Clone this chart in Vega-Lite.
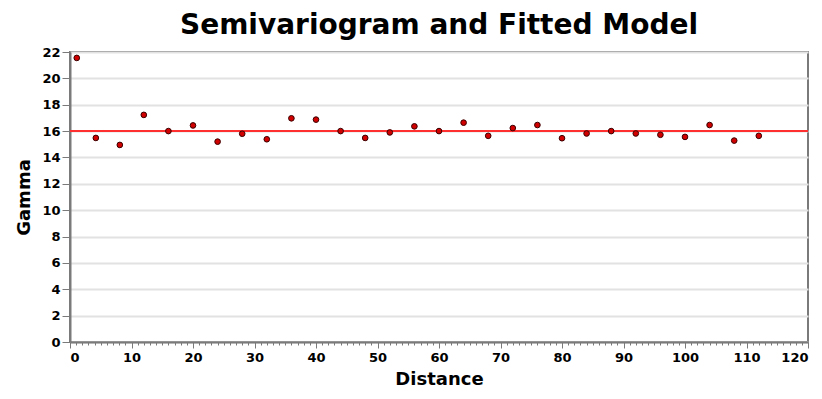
{
  "$schema": "https://vega.github.io/schema/vega-lite/v6.json",
  "width": 738,
  "height": 290,
  "autosize": {"type": "none"},
  "padding": {"left": 70, "top": 52, "right": 14, "bottom": 57},
  "background": "white",
  "title": {
    "text": "Semivariogram and Fitted Model",
    "font": "DejaVu Sans",
    "fontSize": 28,
    "fontWeight": "bold",
    "color": "black",
    "anchor": "middle",
    "frame": "group",
    "baseline": "alphabetic",
    "offset": -16
  },
  "config": {
    "view": {"stroke": "#7a7a7a", "strokeWidth": 2},
    "axis": {
      "labelFont": "DejaVu Sans",
      "labelFontWeight": "bold",
      "labelFontSize": 13,
      "labelColor": "black",
      "titleFont": "DejaVu Sans",
      "titleFontWeight": "bold",
      "titleFontSize": 18,
      "titleColor": "black",
      "domainColor": "#7a7a7a",
      "domainWidth": 2,
      "tickColor": "#7a7a7a"
    }
  },
  "data": {
    "values": [
      {"distance": 1.1, "gamma": 21.55},
      {"distance": 4.2, "gamma": 15.48},
      {"distance": 8.1, "gamma": 14.95},
      {"distance": 12, "gamma": 17.23},
      {"distance": 16, "gamma": 16.0},
      {"distance": 20, "gamma": 16.43},
      {"distance": 24, "gamma": 15.2},
      {"distance": 28, "gamma": 15.8},
      {"distance": 32, "gamma": 15.38},
      {"distance": 36, "gamma": 16.97},
      {"distance": 40, "gamma": 16.87},
      {"distance": 44, "gamma": 16.0},
      {"distance": 48, "gamma": 15.48},
      {"distance": 52, "gamma": 15.9},
      {"distance": 56, "gamma": 16.36},
      {"distance": 60, "gamma": 16.0},
      {"distance": 64, "gamma": 16.64},
      {"distance": 68, "gamma": 15.64},
      {"distance": 72, "gamma": 16.23},
      {"distance": 76, "gamma": 16.46},
      {"distance": 80, "gamma": 15.46},
      {"distance": 84, "gamma": 15.82},
      {"distance": 88, "gamma": 16.0},
      {"distance": 92, "gamma": 15.82},
      {"distance": 96, "gamma": 15.72},
      {"distance": 100, "gamma": 15.56},
      {"distance": 104, "gamma": 16.46},
      {"distance": 108, "gamma": 15.28},
      {"distance": 112, "gamma": 15.64}
    ]
  },
  "encoding": {
    "y": {
      "field": "gamma",
      "type": "quantitative",
      "scale": {"domain": [0, 22], "nice": false},
      "axis": {
        "title": "Gamma",
        "values": [0, 2, 4, 6, 8, 10, 12, 14, 16, 18, 20, 22],
        "tickSize": 8,
        "labelPadding": 2,
        "labelOverlap": false,
        "labelFlush": false,
        "grid": true,
        "gridColor": "#e2e2e2",
        "gridWidth": 2,
        "titlePadding": 8
      }
    }
  },
  "layer": [
    {
      "mark": {"type": "rule", "color": "#ff3030", "strokeWidth": 2},
      "encoding": {
        "y": {"datum": 16, "type": "quantitative"}
      }
    },
    {
      "mark": {"type": "point", "shape": "circle", "filled": true, "size": 32, "color": "#d00000", "stroke": "#3a0000", "strokeWidth": 1, "opacity": 1},
      "encoding": {
        "x": {
          "field": "distance",
          "type": "quantitative",
          "scale": {"domain": [0, 120], "nice": false},
          "axis": {
            "title": "Distance",
            "values": [0,1,2,3,4,5,6,7,8,9,10,11,12,13,14,15,16,17,18,19,20,21,22,23,24,25,26,27,28,29,30,31,32,33,34,35,36,37,38,39,40,41,42,43,44,45,46,47,48,49,50,51,52,53,54,55,56,57,58,59,60,61,62,63,64,65,66,67,68,69,70,71,72,73,74,75,76,77,78,79,80,81,82,83,84,85,86,87,88,89,90,91,92,93,94,95,96,97,98,99,100,101,102,103,104,105,106,107,108,109,110,111,112,113,114,115,116,117,118,119,120],
            "labelExpr": "datum.value % 10 === 0 ? datum.label : ''",
            "tickSize": {"condition": {"test": "datum.value % 10 === 0", "value": 6}, "value": 3},
            "labelPadding": 3,
            "labelOverlap": false,
            "grid": false,
            "titlePadding": 6
          }
        }
      }
    }
  ]
}
